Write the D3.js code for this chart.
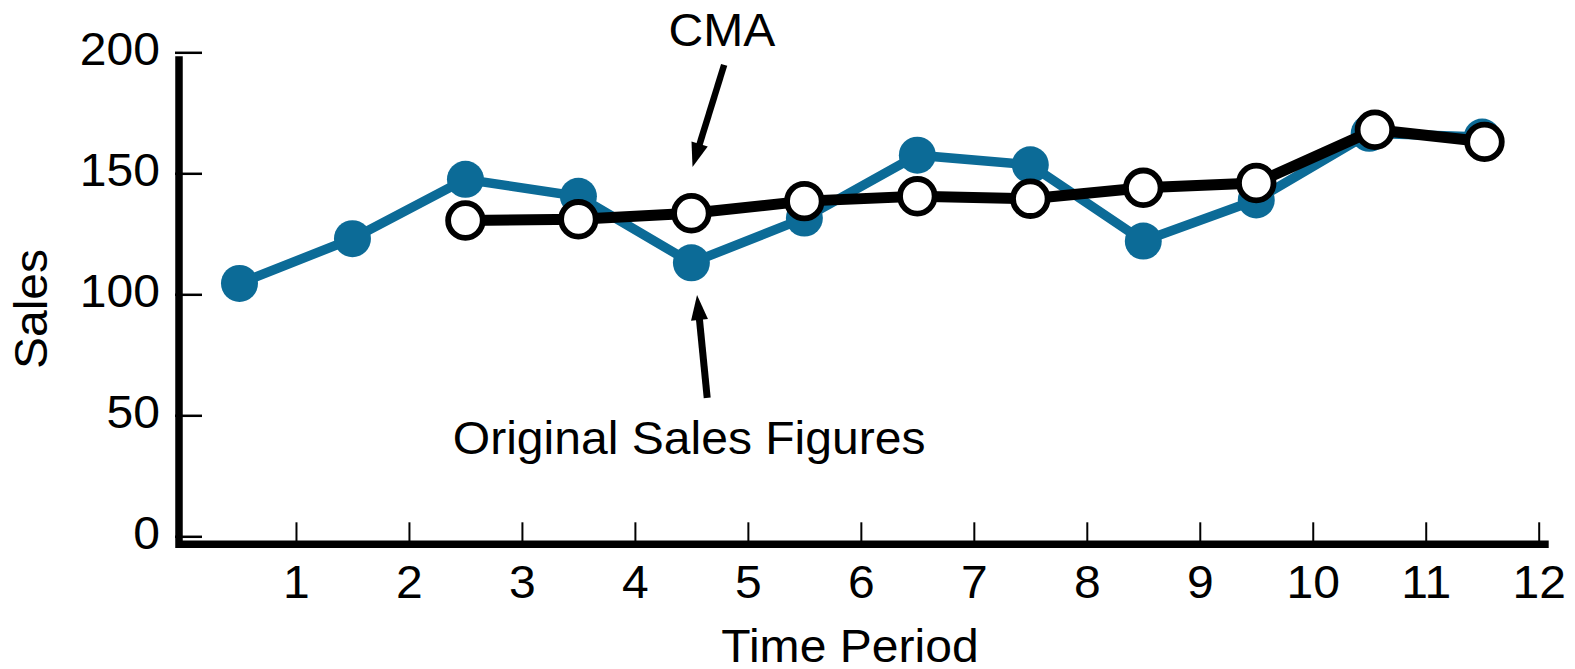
<!DOCTYPE html>
<html>
<head>
<meta charset="utf-8">
<script src="https://cdn.jsdelivr.net/npm/d3@7"></script>
<style>
  html, body { margin: 0; padding: 0; background: #fff; }
  svg { display: block; }
  text { font-family: "Liberation Sans", Arial, Helvetica, sans-serif; fill: #000; }
</style>
</head>
<body>
<svg id="chart" width="1575" height="669"></svg>
<script>
// Quarterly sales and their centred moving average
const periods     = [0.5, 1.5, 2.5, 3.5, 4.5, 5.5, 6.5, 7.5, 8.5, 9.5, 10.5, 11.5];
const salesValues = [104.5, 123, 147.5, 140.5, 113, 131.5, 157.5, 153.5, 122, 139, 166.5, 165];
const cmaPeriods  = [2.5, 3.5, 4.5, 5.5, 6.5, 7.5, 8.5, 9.5, 10.55, 11.52];
const cmaValues   = [130.5, 131, 133.5, 138.5, 140.5, 139.5, 144, 146, 168, 163];
const xTickValues = [1, 2, 3, 4, 5, 6, 7, 8, 9, 10, 11, 12];
const yTickValues = [0, 50, 100, 150, 200];

// Annotation anchors, in data units
const cmaLabel   = { text: "CMA", x: 4.77, y: 202.6 };
const cmaArrow   = { from: [4.79, 194.8], to: [4.51, 152.6] };
const salesLabel = { text: "Original Sales Figures", x: 4.48, y: 33.9 };
const salesArrow = { from: [4.64, 57.2], to: [4.55, 99.7] };

const FONT = 46, WIDE = 1.045;
const BLUE = "#0c6b97";

const svg = d3.select("#chart");
const x = d3.scaleLinear().domain([0, 12]).range([183, 1538.7]);
const y = d3.scaleLinear().domain([0, 200]).range([536.3, 52.3]);

// Slightly wide lettering
function place(sel, px, py) {
  sel.attr("x", null).attr("y", null).attr("dy", null)
     .attr("transform", `translate(${px},${py}) scale(${WIDE},1)`)
     .style("font-size", FONT + "px");
}

// Axes frame
const frameX = x(0) - 4, frameTop = y(200) + 4, frameY = y(0) + 8, frameEnd = x(12) + 10;
svg.append("path")
  .attr("d", `M${frameX},${frameTop}V${frameY}H${frameEnd}`)
  .attr("fill", "none").attr("stroke", "#000").attr("stroke-width", 7.5)
  .attr("stroke-linejoin", "miter");

// Y axis ticks point inward
const yAxis = svg.append("g").attr("transform", `translate(${frameX},0)`)
  .call(d3.axisLeft(y).tickValues(yTickValues).tickSizeInner(-23).tickSizeOuter(0).tickPadding(19));
yAxis.select(".domain").remove();
yAxis.selectAll(".tick line").attr("stroke", "#000").attr("stroke-width", 2.5).attr("x1", -4);
yAxis.selectAll(".tick text").each(function () {
  const t = d3.select(this);
  t.attr("text-anchor", "end");
  place(t, -19, 12.5);
});

// X axis ticks point upward
const xAxis = svg.append("g").attr("transform", `translate(0,${frameY})`)
  .call(d3.axisBottom(x).tickValues(xTickValues).tickSizeInner(-22).tickSizeOuter(0).tickPadding(21));
xAxis.select(".domain").remove();
xAxis.selectAll(".tick line").attr("stroke", "#000").attr("stroke-width", 2);
xAxis.selectAll(".tick text").each(function () {
  const t = d3.select(this);
  t.attr("text-anchor", "middle");
  place(t, 0, 53.5);
});

// Axis titles
svg.append("text").text("Time Period").attr("text-anchor", "middle").call(place, 850, 662);
svg.append("text").text("Sales").attr("text-anchor", "middle")
  .style("font-size", FONT + "px")
  .attr("transform", `translate(46.7,309) rotate(-90) scale(${WIDE},1)`);

// Original sales series
const sales = periods.map((p, i) => ({ p, v: salesValues[i] }));
const line = d3.line().x(d => x(d.p)).y(d => y(d.v));
svg.append("path").datum(sales).attr("d", line)
  .attr("fill", "none").attr("stroke", BLUE).attr("stroke-width", 9.5);
svg.append("g").selectAll("circle").data(sales).join("circle")
  .attr("cx", d => x(d.p)).attr("cy", d => y(d.v)).attr("r", 18.5).attr("fill", BLUE);

// Centred moving average series
const cma = cmaPeriods.map((p, i) => ({ p, v: cmaValues[i] }));
svg.append("path").datum(cma).attr("d", line)
  .attr("fill", "none").attr("stroke", "#000").attr("stroke-width", 11);
svg.append("g").selectAll("circle").data(cma).join("circle")
  .attr("cx", d => x(d.p)).attr("cy", d => y(d.v)).attr("r", 17.3)
  .attr("fill", "#fff").attr("stroke", "#000").attr("stroke-width", 5.8);

// Annotations
function arrow(a, shaft, headLen, headW) {
  const x0 = x(a.from[0]), y0 = y(a.from[1]), x1 = x(a.to[0]), y1 = y(a.to[1]);
  const dx = x1 - x0, dy = y1 - y0, len = Math.hypot(dx, dy);
  const ux = dx / len, uy = dy / len, nx = -uy, ny = ux;
  const bx = x1 - ux * headLen, by = y1 - uy * headLen;
  svg.append("line").attr("x1", x0).attr("y1", y0).attr("x2", bx + ux * 2).attr("y2", by + uy * 2)
    .attr("stroke", "#000").attr("stroke-width", shaft);
  svg.append("path")
    .attr("d", `M${x1},${y1}L${bx + nx * headW / 2},${by + ny * headW / 2}L${bx - nx * headW / 2},${by - ny * headW / 2}Z`)
    .attr("fill", "#000");
}
svg.append("text").text(cmaLabel.text).attr("text-anchor", "middle").call(place, x(cmaLabel.x), y(cmaLabel.y));
arrow(cmaArrow, 6.5, 24, 17);
svg.append("text").text(salesLabel.text).attr("text-anchor", "middle").call(place, x(salesLabel.x), y(salesLabel.y));
arrow(salesArrow, 7, 25, 17);
</script>
</body>
</html>
